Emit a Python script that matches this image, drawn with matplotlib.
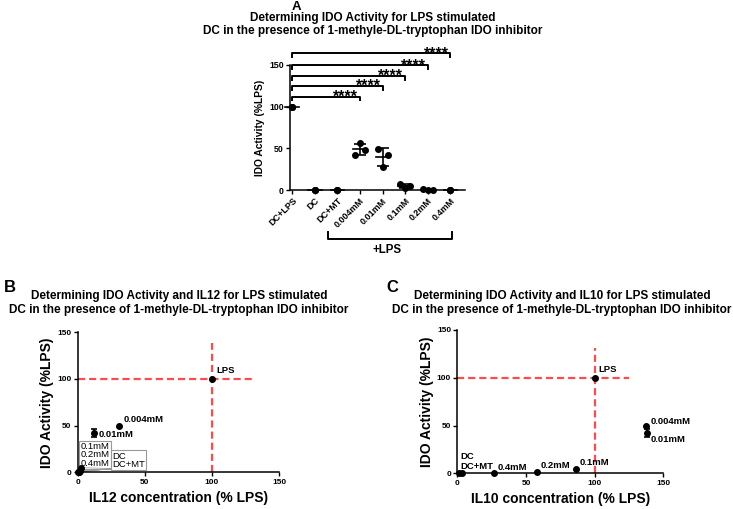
import numpy as np
import matplotlib
matplotlib.use("Agg")
import matplotlib.pyplot as plt
import matplotlib.transforms as mtransforms

plt.rcParams['font.family'] = ['Liberation Sans', 'DejaVu Sans']
plt.rcParams['font.weight'] = 'bold'

# ---------------- data ----------------
groups_A = ["DC+LPS", "DC", "DC+MT", "0.004mM", "0.01mM", "0.1mM", "0.2mM", "0.4mM"]
reps_A = [[100, 100, 100], [0, 0, 0], [0, 0, 0], [42, 56, 48],
          [49, 28, 42], [7, 2.5, 5], [1, 0, 0.3], [0, 0, 0]]
sig_targets = [3, 4, 5, 6, 7]
sig_heights = [112, 125, 137, 150, 164]
sig_text = "****"

# panel B (IL12 vs IDO)
labels_B = ["LPS", "0.004mM", "0.01mM", "0.1mM", "0.2mM", "0.4mM", "DC", "DC+MT"]
il12_B = [100, 31, 12.2, 2.5, 1.5, 1.0, 0.3, 0.6]
ido_B = [100, 50, 41.8, 5, 1.5, 0.5, 0, 0]
ido_err_B = [0, 0, 4.5, 0, 0, 0, 0, 0]

# panel C (IL10 vs IDO)
labels_C = ["LPS", "0.004mM", "0.01mM", "0.1mM", "0.2mM", "0.4mM", "DC", "DC+MT"]
il10_C = [100, 137.4, 137.9, 86.2, 57.8, 26.5, 1.2, 3.4]
ido_C = [100, 49.5, 41.9, 4.9, 1.7, 0, 0, 0]
ido_err_C = [0, 0, 4, 0, 0, 0, 0, 0]

ref_lines_B = (130, 139)   # extent of red dashed reference lines (x-extent, y-extent)
ref_lines_C = (125, 131)

W, H = 733, 509
fig = plt.figure(figsize=(W / 100, H / 100), dpi=100)

def ax_px(l, r, b, t):
    return fig.add_axes([l / W, 1 - b / H, (r - l) / W, (b - t) / H])

def style_axes(ax, lab):
    for s in ['top', 'right']:
        ax.spines[s].set_visible(False)
    for s in ['left', 'bottom']:
        ax.spines[s].set_linewidth(1.1)
    ax.tick_params(direction='out', length=3, width=1.0, labelsize=lab, pad=1.5)
    for t in ax.get_xticklabels() + ax.get_yticklabels():
        t.set_fontweight('bold')

# ---------------- Panel A ----------------
axA = ax_px(290, 465, 190, 65)
jit = [-0.22, 0.0, 0.22]
for i, vals in enumerate(reps_A):
    vals = np.array(vals, float)
    same = np.ptp(vals) == 0
    xs = [i] * len(vals) if same else [i + j for j in jit]
    axA.plot(xs, vals, 'o', color='black', ms=4, clip_on=False, zorder=5)
    m = vals.mean()
    sd = vals.std(ddof=1)
    axA.plot([i - 0.3, i + 0.3], [m, m], color='black', lw=1.2, clip_on=False)
    if sd > 0:
        axA.errorbar(i, m, yerr=sd, fmt='none', ecolor='black', elinewidth=1.2,
                     capsize=4, capthick=1.2, clip_on=False)
axA.set_xlim(-0.1, 7.65)
axA.set_ylim(0, 150)
axA.set_yticks([0, 50, 100, 150])
axA.set_xticks(range(len(groups_A)))
axA.set_xticklabels(groups_A, rotation=45, ha='right', va='top', rotation_mode='anchor')
style_axes(axA, 6.3)
for t in axA.get_xticklabels():
    t.set_fontsize(6.5)
axA.set_ylabel("IDO Activity (%LPS)", fontsize=7.4, fontweight='bold', labelpad=3)

for tgt, hgt in zip(sig_targets, sig_heights):
    axA.plot([0, 0, tgt, tgt], [hgt - 4.5, hgt, hgt, hgt - 4.5], color='black',
             lw=1.4, clip_on=False)
    axA.text(tgt - 0.08, hgt - 6.5, sig_text, ha='right', va='baseline',
             fontsize=11.5, fontweight='bold')

trA = mtransforms.blended_transform_factory(axA.transData, axA.transAxes)
yb = -0.392
axA.plot([1.6, 1.6, 7.07, 7.07], [yb + 0.054, yb, yb, yb + 0.054], color='black',
         lw=1.4, transform=trA, clip_on=False)
axA.text(4.2, -0.48, "+LPS", transform=trA, ha='center', va='center',
         fontsize=8.3, fontweight='bold')

fig.text(373 / W, 1 - 18 / H, "Determining IDO Activity for LPS stimulated",
         ha='center', va='center', fontsize=8.5, fontweight='bold')
fig.text(373 / W, 1 - 31 / H, "DC in the presence of 1-methyle-DL-tryptophan IDO inhibitor",
         ha='center', va='center', fontsize=8.5, fontweight='bold')
fig.text(296 / W, 1 - 0.5 / H, "A", ha='center', va='top', fontsize=9.5, fontweight='bold')

red = '#ff4a4a'

def scatter_panel(ax, xs, ys, errs, ext, xlabel):
    ax.plot([0, ext[0]], [100, 100], color=red, lw=1.6, ls=(0, (3.2, 1.8)), zorder=1)
    ax.plot([100, 100], [0, ext[1]], color=red, lw=1.6, ls=(0, (3.2, 1.8)), zorder=1)
    for x, y, e in zip(xs, ys, errs):
        ax.plot(x, y, 'o', color='black', ms=4, clip_on=False, zorder=5)
        if e > 0:
            ax.errorbar(x, y, yerr=e, fmt='none', ecolor='black', elinewidth=1.2,
                        capsize=2.5, capthick=1.2, clip_on=False, zorder=5)
    ax.set_xlim(0, 150)
    ax.set_ylim(0, 150)
    ax.set_xticks([0, 50, 100, 150])
    ax.set_yticks([0, 50, 100, 150])
    style_axes(ax, 6)
    ax.set_xlabel(xlabel, fontsize=10, fontweight='bold', labelpad=4)
    ax.set_ylabel("IDO Activity (%LPS)", fontsize=10, fontweight='bold', labelpad=2)

# ---------------- Panel B ----------------
axB = ax_px(77.7, 279, 472.3, 332.3)
scatter_panel(axB, il12_B, ido_B, ido_err_B, ref_lines_B, "IL12 concentration (% LPS)")
lbl = dict(fontsize=6.8, fontweight='bold')
axB.annotate(labels_B[0], (il12_B[0], ido_B[0]), xytext=(3, 3), textcoords='offset points', va='bottom', **lbl)
axB.annotate(labels_B[1], (il12_B[1], ido_B[1]), xytext=(3, 1), textcoords='offset points', va='bottom', **lbl)
axB.annotate(labels_B[2], (il12_B[2], ido_B[2]), xytext=(3, -1), textcoords='offset points', va='center', **lbl)
axB.text(2.0, 32.5, "\n".join(labels_B[3:6]), ha='left', va='top', fontsize=6.8,
         fontweight='normal', linespacing=0.9,
         bbox=dict(boxstyle='square,pad=0.15', fc='none', ec='#999999', lw=0.8))
axB.text(25.6, 22, "\n".join(labels_B[6:8]), ha='left', va='top', fontsize=6.8,
         fontweight='normal', linespacing=0.9,
         bbox=dict(boxstyle='square,pad=0.15', fc='none', ec='#999999', lw=0.8))
for (x, y) in zip(il12_B[3:], ido_B[3:]):
    axB.plot([x, 25], [y, 4], color='#999999', lw=0.5, zorder=2)

fig.text(179 / W, 1 - 296 / H, "Determining IDO Activity and IL12 for LPS stimulated",
         ha='center', va='center', fontsize=8.5, fontweight='bold')
fig.text(179 / W, 1 - 310 / H, "DC in the presence of 1-methyle-DL-tryptophan IDO inhibitor",
         ha='center', va='center', fontsize=8.5, fontweight='bold')
fig.text(10 / W, 1 - 288 / H, "B", ha='center', va='center', fontsize=12, fontweight='bold')

# ---------------- Panel C ----------------
axC = ax_px(457.3, 663.3, 473.3, 330)
scatter_panel(axC, il10_C, ido_C, ido_err_C, ref_lines_C, "IL10 concentration (% LPS)")
axC.annotate(labels_C[0], (il10_C[0], ido_C[0]), xytext=(3, 3), textcoords='offset points', va='bottom', **lbl)
axC.annotate(labels_C[1], (il10_C[1], ido_C[1]), xytext=(3, 0), textcoords='offset points', va='bottom', **lbl)
axC.annotate(labels_C[2], (il10_C[2], ido_C[2]), xytext=(3, -1), textcoords='offset points', va='top', **lbl)
for k in (3, 4, 5):
    axC.annotate(labels_C[k], (il10_C[k], ido_C[k]), xytext=(3, 1), textcoords='offset points',
                 va='bottom', **lbl)
axC.annotate(labels_C[6], (il10_C[6], ido_C[6]), xytext=(1, 9), textcoords='offset points', va='bottom', **lbl)
axC.annotate(labels_C[7], (il10_C[7], ido_C[7]), xytext=(-1, 2), textcoords='offset points', va='bottom', **lbl)

fig.text(562 / W, 1 - 296 / H, "Determining IDO Activity and IL10 for LPS stimulated",
         ha='center', va='center', fontsize=8.5, fontweight='bold')
fig.text(562 / W, 1 - 310 / H, "DC in the presence of 1-methyle-DL-tryptophan IDO inhibitor",
         ha='center', va='center', fontsize=8.5, fontweight='bold')
fig.text(392 / W, 1 - 288 / H, "C", ha='center', va='center', fontsize=12, fontweight='bold')

fig.savefig("out.png", dpi=100)
